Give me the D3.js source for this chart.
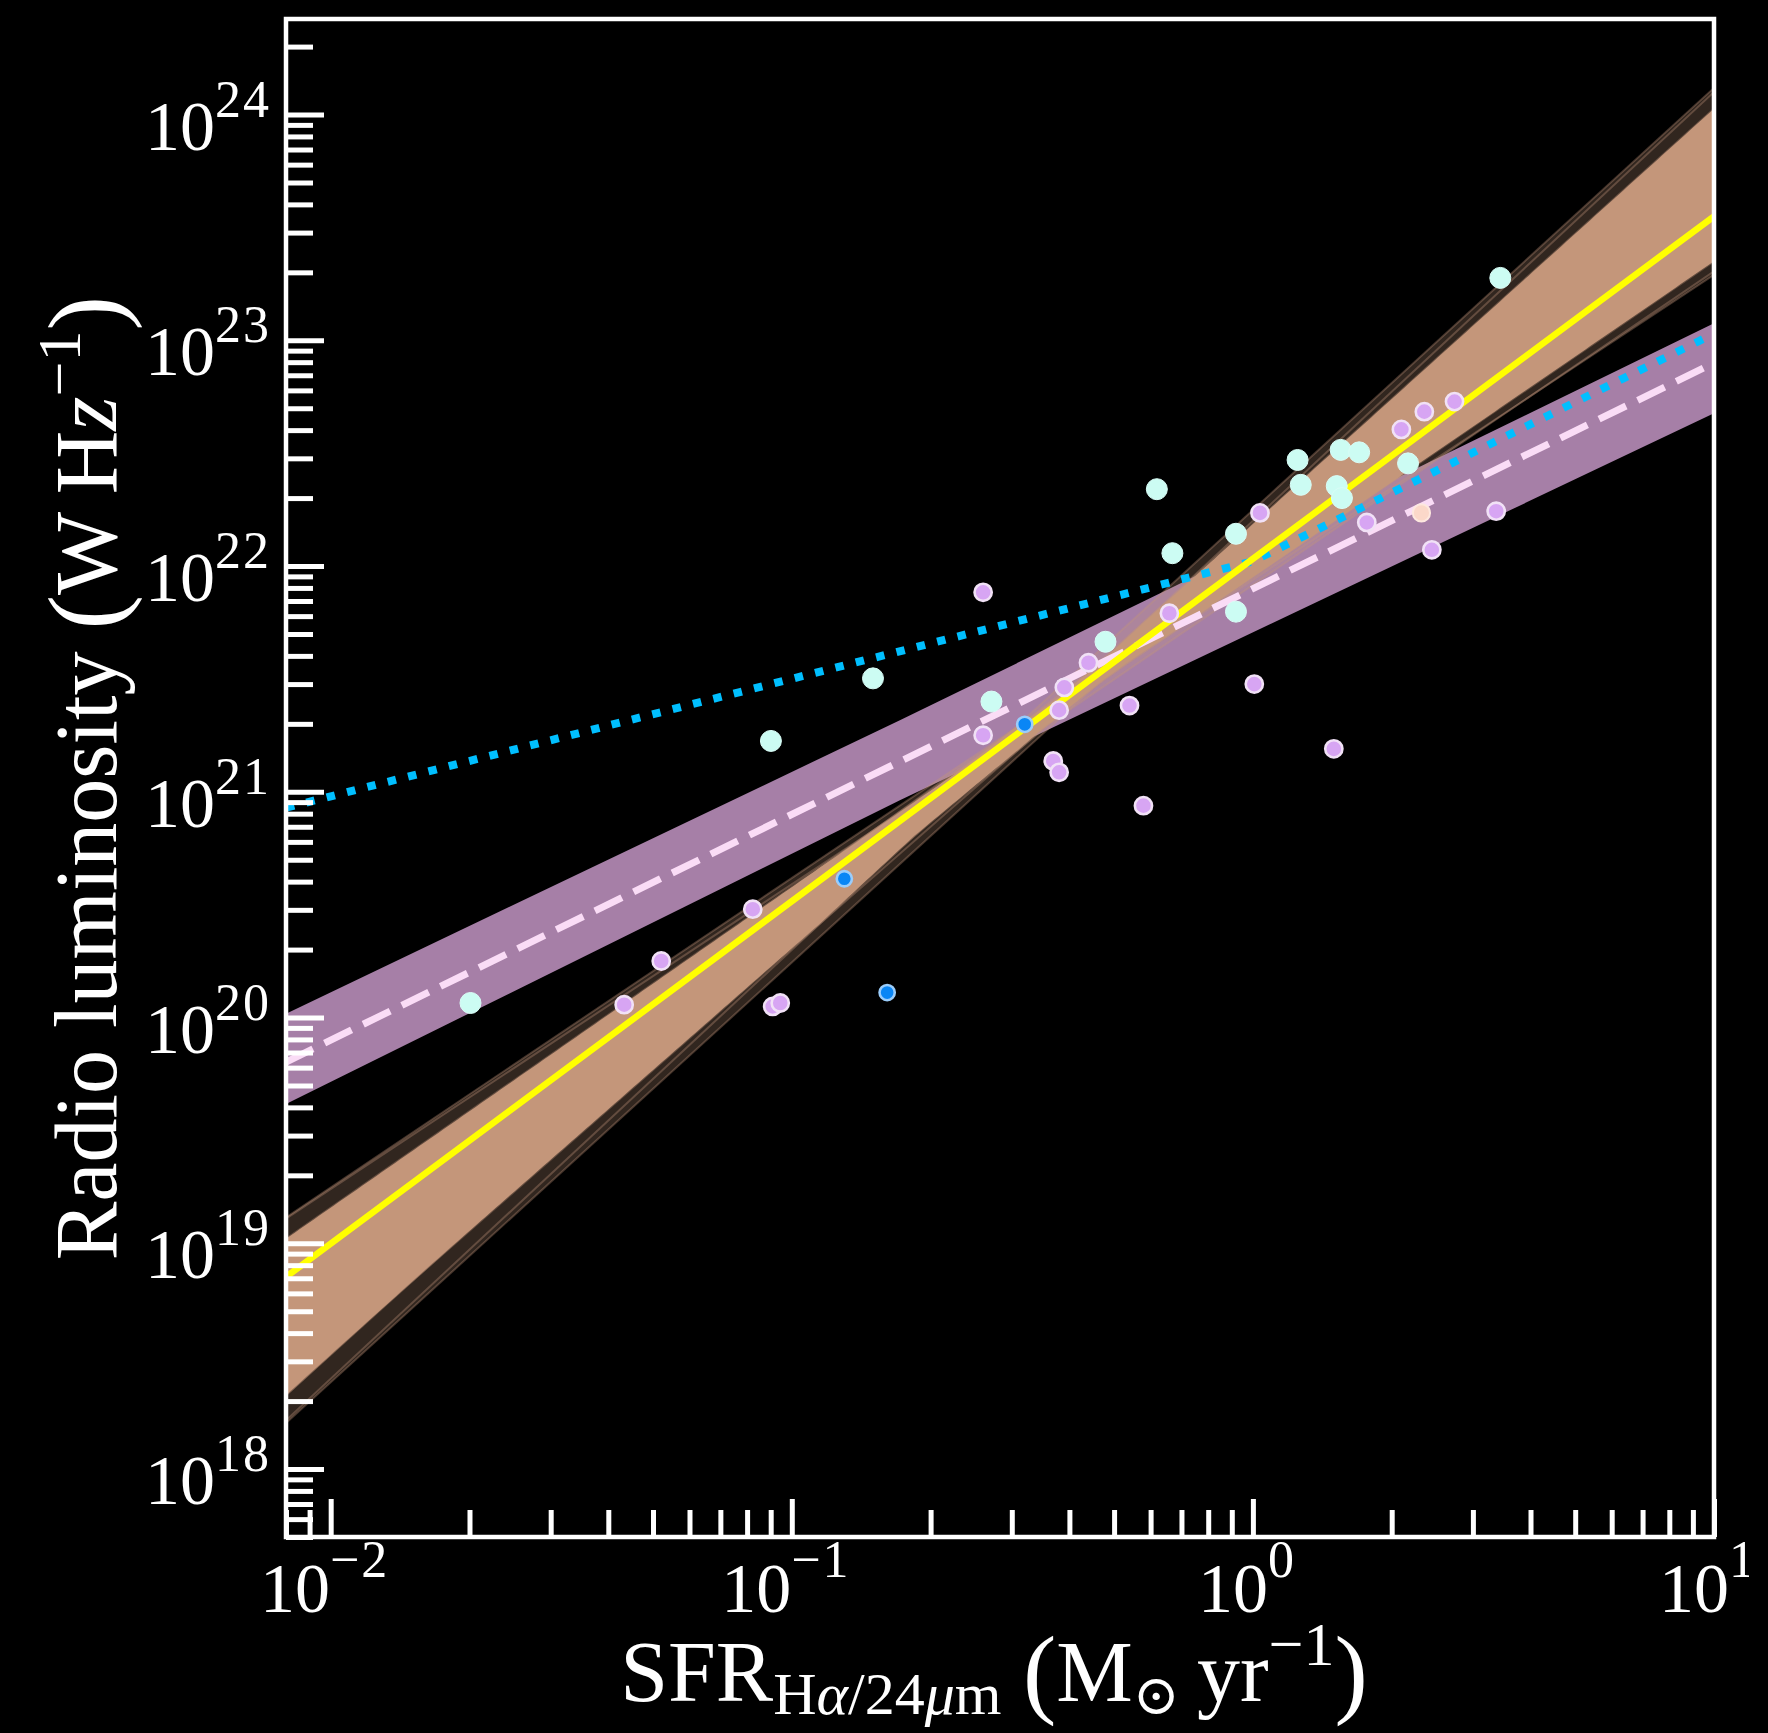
<!DOCTYPE html>
<html>
<head>
<meta charset="utf-8">
<script src="https://d3js.org/d3.v7.min.js"></script>
<style>
html, body { margin:0; padding:0; background:#000; overflow:hidden; }
svg { display:block; }
text { font-family: "Liberation Serif", "DejaVu Serif", serif; fill:#fff; }
</style>
</head>
<body>
<script>
// ================= DATA =================
// Light-cyan sample
const cyanSFR = [0.0201, 0.0901, 0.150, 0.271, 0.479, 0.619, 0.669, 0.919, 0.919, 1.25, 1.27, 1.55, 1.70, 1.52, 1.56, 2.17, 3.44];
const cyanL   = [1.16e20, 1.68e21, 3.18e21, 2.51e21, 4.62e21, 2.19e22, 1.14e22, 6.28e21, 1.39e22, 2.95e22, 2.29e22, 3.27e22, 3.19e22, 2.26e22, 2.0e22, 2.85e22, 1.89e23];
// Blue sample
const blueSFR = [0.130, 0.161, 0.320];
const blueL   = [4.12e20, 1.29e20, 1.99e21];
// Lilac sample
const lilacSFR = [0.0433, 0.0521, 0.0823, 0.0909, 0.0944, 0.260, 0.260, 0.369, 0.380, 0.380, 0.390, 0.440, 0.540, 0.579, 0.659, 1.007, 1.036, 1.498, 1.766, 2.099, 2.354, 2.737, 2.444, 3.37];
const lilacL   = [1.14e20, 1.78e20, 3.02e20, 1.12e20, 1.16e20, 7.65e21, 1.78e21, 1.37e21, 1.22e21, 2.30e21, 2.90e21, 3.73e21, 2.41e21, 8.68e20, 6.18e21, 3.0e21, 1.72e22, 1.55e21, 1.56e22, 4.03e22, 4.83e22, 5.35e22, 1.18e22, 1.75e22];
// Peach point
const peachSFR = [2.32];
const peachL   = [1.72e22];

// Best fit (yellow) line end points
const fitSFR = [0.008, 10];
const fitL   = [7.1e18, 3.54e23];
// Bootstrap fit lines: log10 L at SFR = 0.008 (left) and SFR = 10 (right)
const fanLogLeft  = [19.109, 19.115, 19.014, 19.020, 18.949, 18.956, 18.835, 18.841, 18.830, 18.736, 18.715, 18.641, 18.657, 18.576, 18.502, 18.511, 18.447, 18.446, 18.343, 18.349, 18.335, 18.328, 18.327, 18.216, 19.001, 18.204];
const fanLogRight = [23.290, 23.358, 23.350, 23.418, 23.440, 23.508, 23.480, 23.548, 23.630, 23.598, 23.670, 23.658, 23.736, 23.748, 23.736, 23.838, 23.836, 23.928, 23.886, 23.954, 24.002, 24.026, 24.118, 24.100, 23.306, 23.964];

// Linear relation (dashed) and its scatter band (purple)
const linSFR = [0.008, 10];
const linL   = [6.35e19, 7.94e22];
const bandSFR  = [0.008, 0.172, 10];
const bandLow  = [4.14e19, 9.2e20, 4.75e22];
const bandHigh = [1.04e20, 2.08e21, 1.19e23];

// Broken relation (dotted)
const dotSFR = [0.008, 1.0, 10];
const dotL   = [8.5e20, 1.05e22, 1.07e23];

// Axis domains
const xDomain = [0.008, 10];
const yDomain = [5e17, 2.65e24];

// ================= CHART =================
const W = 1768, H = 1733;
const L0 = 286, R0 = 1714, T0 = 19, B0 = 1537;
const svg = d3.select("body").append("svg").attr("width", W).attr("height", H);
svg.append("rect").attr("width", W).attr("height", H).attr("fill", "#000");

const x = d3.scaleLog().domain(xDomain).range([L0, R0]);
const y = d3.scaleLog().domain(yDomain).range([B0, T0]);

const defs = svg.append("defs");
defs.append("clipPath").attr("id", "plotclip").append("rect")
  .attr("x", L0).attr("y", T0).attr("width", R0 - L0).attr("height", B0 - T0);
defs.append("clipPath").attr("id", "pageclip").append("rect")
  .attr("x", 0).attr("y", 0).attr("width", 1749).attr("height", H);

const plot = svg.append("g").attr("clip-path", "url(#plotclip)");

// --- purple scatter band ---
const band = bandSFR.map((s, i) => ({s, lo: bandLow[i], hi: bandHigh[i]}));
plot.append("path").datum(band)
  .attr("d", d3.area().x(d => x(d.s)).y0(d => y(d.lo)).y1(d => y(d.hi)))
  .attr("fill", "#a67fa7");

// --- bootstrap fan ---
const lx0 = Math.log10(xDomain[0]), lx1 = Math.log10(xDomain[1]);
const fanVal = (i, s) => Math.pow(10, fanLogLeft[i] + (fanLogRight[i] - fanLogLeft[i]) * (Math.log10(s) - lx0) / (lx1 - lx0));
const xs = d3.range(0, 301).map(k => xDomain[0] * Math.pow(xDomain[1] / xDomain[0], k / 300));
const env = xs.map(s => {
  const v = fanLogLeft.map((_, i) => fanVal(i, s)).sort((a, b) => a - b);
  const n = v.length;
  return {s, min: v[0], max: v[n - 1], lo: v[2], hi: v[n - 3]};
});
const tan = "#c4967a";
plot.append("path").datum(env)
  .attr("d", d3.area().x(d => x(d.s)).y0(d => y(d.min)).y1(d => y(d.max)))
  .attr("fill", tan).attr("fill-opacity", 0.25);
const lineGen = d3.line().x(d => x(d.s)).y(d => y(d.v));
fanLogLeft.forEach((lv, i) => {
  plot.append("path")
    .datum([{s: xDomain[0], v: Math.pow(10, lv)}, {s: xDomain[1], v: Math.pow(10, fanLogRight[i])}])
    .attr("d", lineGen).attr("fill", "none")
    .attr("stroke", tan).attr("stroke-opacity", 0.35).attr("stroke-width", 2);
});
plot.append("path").datum(env)
  .attr("d", d3.area().x(d => x(d.s)).y0(d => y(d.lo)).y1(d => y(d.hi)))
  .attr("fill", tan);

// --- dashed linear relation ---
plot.append("path").datum(linSFR.map((s, i) => ({s, v: linL[i]})))
  .attr("d", lineGen).attr("fill", "none")
  .attr("stroke", "#fadcf6").attr("stroke-width", 7).attr("stroke-dasharray", "30,13");

// --- dotted broken relation ---
plot.append("path").datum(dotSFR.map((s, i) => ({s, v: dotL[i]})))
  .attr("d", lineGen).attr("fill", "none")
  .attr("stroke", "#00bfff").attr("stroke-width", 8).attr("stroke-dasharray", "8.5,12.5");

// --- best fit ---
plot.append("path").datum(fitSFR.map((s, i) => ({s, v: fitL[i]})))
  .attr("d", lineGen).attr("fill", "none")
  .attr("stroke", "#ffff00").attr("stroke-width", 6.5);

// --- points ---
const pts = svg.append("g");
function drawPts(sfr, lum, r, fill, stroke, sw) {
  pts.append("g").selectAll("circle").data(sfr.map((s, i) => ({s, v: lum[i]}))).join("circle")
    .attr("cx", d => x(d.s)).attr("cy", d => y(d.v)).attr("r", r)
    .attr("fill", fill).attr("stroke", stroke).attr("stroke-width", sw);
}
drawPts(cyanSFR, cyanL, 10.5, "#ccfcf3", "#d9fdf7", 1);
drawPts(lilacSFR, lilacL, 8.6, "#d7a5f3", "#f1e1f6", 2.6);
drawPts(blueSFR, blueL, 7.6, "#0a86f5", "#9bcdfb", 2.6);
drawPts(peachSFR, peachL, 8.6, "#fbd8c9", "#fde8df", 2);

// --- frame ---
svg.append("rect").attr("x", L0).attr("y", T0).attr("width", R0 - L0).attr("height", B0 - T0)
  .attr("fill", "none").attr("stroke", "#fff").attr("stroke-width", 4.5);

// --- ticks ---
const isMajor = v => Math.abs(Math.log10(v) - Math.round(Math.log10(v))) < 1e-6;
const yT = y.ticks(), xT = x.ticks();
function tickAxis(axis, vals, len, g) {
  g.call(axis.tickValues(vals).tickSizeInner(-len).tickSizeOuter(0).tickFormat(() => ""));
  g.select(".domain").remove();
  g.selectAll(".tick line").attr("stroke", "#fff").attr("stroke-width", 5);
}
tickAxis(d3.axisLeft(y), yT.filter(v => !isMajor(v)), 27, svg.append("g").attr("transform", `translate(${L0},0)`));
tickAxis(d3.axisLeft(y), yT.filter(isMajor), 38, svg.append("g").attr("transform", `translate(${L0},0)`));
tickAxis(d3.axisBottom(x), xT.filter(v => !isMajor(v)), 27, svg.append("g").attr("transform", `translate(0,${B0})`));
tickAxis(d3.axisBottom(x), xT.filter(isMajor), 38, svg.append("g").attr("transform", `translate(0,${B0})`));

const expStr = e => (e < 0 ? "\u2212" + Math.abs(e) : String(e));
// y tick labels
yT.filter(isMajor).forEach(v => {
  const e = Math.round(Math.log10(v));
  const t = svg.append("text").attr("x", 271).attr("y", y(v) + 35)
    .attr("text-anchor", "end").attr("font-size", 70);
  t.append("tspan").text("10");
  t.append("tspan").attr("dy", -33).attr("font-size", 52).attr("letter-spacing", 2).text(expStr(e));
});
// x tick labels
const xl = svg.append("g").attr("clip-path", "url(#pageclip)");
xT.filter(isMajor).forEach(v => {
  const e = Math.round(Math.log10(v));
  const t = xl.append("text").attr("x", x(v) - 6).attr("y", 1612)
    .attr("text-anchor", "middle").attr("font-size", 70);
  t.append("tspan").text("10");
  t.append("tspan").attr("dy", -35).attr("font-size", 52).attr("letter-spacing", 2).text(expStr(e));
});

// --- axis titles ---
const yl = svg.append("text").attr("transform", `translate(116,${(T0 + B0) / 2}) rotate(-90)`)
  .attr("text-anchor", "middle").attr("font-size", 88);
yl.append("tspan").text("Radio luminosity\u00a0");
yl.append("tspan").attr("font-size", 104).attr("dy", 4).text("(");
yl.append("tspan").attr("dy", -4).text("W\u2009H");
yl.append("tspan").attr("font-style", "italic").text("z");
yl.append("tspan").attr("font-size", 62).attr("dy", -36).text("\u22121");
yl.append("tspan").attr("font-size", 104).attr("dy", 40).text(")");

const xlab = svg.append("text").attr("x", (L0 + R0) / 2 - 6).attr("y", 1701)
  .attr("text-anchor", "middle").attr("font-size", 86);
xlab.append("tspan").text("SFR");
xlab.append("tspan").attr("font-size", 60).attr("dy", 13).text("H");
xlab.append("tspan").attr("font-size", 60).attr("font-style", "italic").text("\u03b1");
xlab.append("tspan").attr("font-size", 60).text("/24");
xlab.append("tspan").attr("font-size", 60).attr("font-style", "italic").text("\u03bc");
xlab.append("tspan").attr("font-size", 60).text("m");
xlab.append("tspan").attr("dy", -13).text("\u00a0");
xlab.append("tspan").attr("font-size", 100).attr("dy", 4).text("(");
xlab.append("tspan").attr("dy", -4).text("M");
xlab.append("tspan").attr("font-size", 56).attr("dy", 13).text("\u2299");
xlab.append("tspan").attr("dy", -13).text("\u2009yr");
xlab.append("tspan").attr("font-size", 62).attr("dy", -36).text("\u22121");
xlab.append("tspan").attr("font-size", 100).attr("dy", 40).text(")");
</script>
</body>
</html>
